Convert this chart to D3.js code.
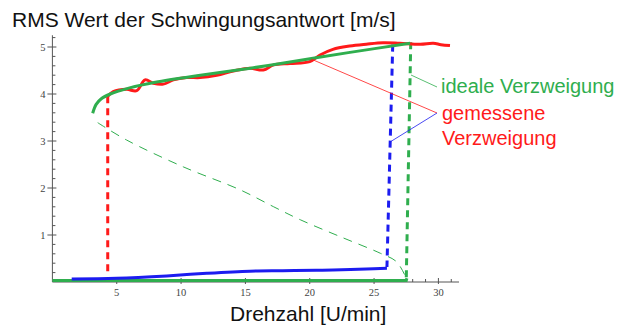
<!DOCTYPE html>
<html>
<head>
<meta charset="utf-8">
<script src="https://cdn.jsdelivr.net/npm/d3@7"></script>
<style>
body { margin: 0; background: #fff; }
svg { display: block; }
</style>
</head>
<body>
<svg id="chart"></svg>
<script>
// values
var greenUpper = [[3.13,3.59],[3.4,3.78],[3.8,3.9],[4.5,4.0],[6,4.13],[8,4.25],[11.5,4.40],[15.4,4.55],[19.3,4.72],[23,4.88],[27.8,5.08]];
var greenUnstable = [[3.52,3.39],[5.77,3.02],[10.17,2.45],[14.6,1.96],[17.2,1.6],[19.3,1.32],[22.5,0.95],[25.5,0.61],[26.75,0.43],[27.5,0.08]];
var greenJump = [[27.85,5.1],[27.5,0.04]];
var greenLower = [[0,0.03],[27.5,0.03],[27.55,0.08]];
var redMeasured = [[4.3,3.95],[4.73,4.05],[5.77,4.10],[6.55,4.07],[7.2,4.30],[7.84,4.23],[8.62,4.21],[9.4,4.30],[10.44,4.35],[11.47,4.35],[12.77,4.40],[14.06,4.49],[15.35,4.55],[16.39,4.51],[17.2,4.62],[18.46,4.65],[20.0,4.69],[20.8,4.83],[21.8,4.95],[23.1,5.02],[24.4,5.06],[25.7,5.09],[27.0,5.08],[28.6,5.06],[29.6,5.08],[30.2,5.05],[30.9,5.03]];
var redJump = [[4.3,3.95],[4.3,0.15]];
var blueMeasured = [[1.5,0.064],[5,0.08],[8.88,0.13],[12,0.185],[15.35,0.23],[17.9,0.24],[20.5,0.25],[21.8,0.255],[24.4,0.277],[26.0,0.29]];
var blueJump = [[26.45,5.05],[26.0,0.32]];
var xTicks = [5, 10, 15, 20, 25, 30];
var yTicks = [1, 2, 3, 4, 5];

var width = 623, height = 329;
var svg = d3.select("#chart").attr("width", width).attr("height", height);

var x = d3.scaleLinear().domain([0, 31.6]).range([52.4, 459]);
var y = d3.scaleLinear().domain([0, 5.25]).range([282, 35.25]);

var axisColor = "#555";
var red = "#ff1a1a", green = "#2fae4e", blue = "#1c1cf0";

// axes
var xAxisG = svg.append("g").attr("transform", "translate(0," + y(0) + ")");
xAxisG.append("line").attr("x1", x(0)).attr("x2", x(31.6)).attr("stroke", axisColor);
xAxisG.selectAll(".minor").data(d3.range(1, 32)).enter().append("line")
  .attr("x1", function(d){return x(d)}).attr("x2", function(d){return x(d)})
  .attr("y2", function(d){return d % 5 == 0 ? 2 : -3})
  .attr("y1", function(d){return d % 5 == 0 ? -4 : 0})
  .attr("stroke", axisColor);
xAxisG.selectAll("text").data(xTicks).enter().append("text")
  .attr("x", function(d){return x(d)}).attr("y", 14)
  .attr("text-anchor", "middle")
  .style("font-family", "Liberation Serif").style("font-size", "10.5px").style("fill", "#444")
  .text(function(d){return d});

var yAxisG = svg.append("g").attr("transform", "translate(" + x(0) + ",0)");
yAxisG.append("line").attr("y1", y(0)).attr("y2", y(5.25)).attr("stroke", axisColor);
yAxisG.selectAll(".minor").data(d3.range(1, 27)).enter().append("line")
  .attr("y1", function(d){return y(d * 0.2)}).attr("y2", function(d){return y(d * 0.2)})
  .attr("x1", function(d){return d % 5 == 0 ? -5 : 0}).attr("x2", function(d){return d % 5 == 0 ? 4 : 3})
  .attr("stroke", axisColor);
yAxisG.selectAll("text").data(yTicks).enter().append("text")
  .attr("x", -7).attr("y", function(d){return y(d) + 3.5})
  .attr("text-anchor", "end")
  .style("font-family", "Liberation Serif").style("font-size", "10.5px").style("fill", "#444")
  .text(function(d){return d});

var line = d3.line().x(function(d){return x(d[0])}).y(function(d){return y(d[1])});
var smooth = d3.line().x(function(d){return x(d[0])}).y(function(d){return y(d[1])}).curve(d3.curveCatmullRom);

function draw(data, gen, color, w, dash) {
  svg.append("path").datum(data).attr("d", gen)
    .attr("fill", "none").attr("stroke", color).attr("stroke-width", w)
    .attr("stroke-dasharray", dash || null);
}

draw(greenLower, line, green, 3);
draw(blueMeasured, smooth, blue, 3);
draw(greenUnstable, smooth, green, 1, "9,7");
draw(redJump, line, red, 3, "7,5");
draw(blueJump, line, blue, 3, "7,5");
draw(greenJump, line, green, 3, "7,5");
draw(redMeasured, smooth, red, 3);
draw(greenUpper, smooth, green, 3);

// callout lines
svg.append("line").attr("x1", 411).attr("y1", 75).attr("x2", 437).attr("y2", 87)
  .attr("stroke", green).attr("stroke-width", 0.8);
svg.append("line").attr("x1", 311).attr("y1", 59).attr("x2", 437).attr("y2", 113)
  .attr("stroke", red).attr("stroke-width", 0.8);
svg.append("line").attr("x1", 437).attr("y1", 113).attr("x2", 390).attr("y2", 142)
  .attr("stroke", blue).attr("stroke-width", 0.8);

// texts
function label(txt, tx, ty, color, size) {
  svg.append("text").attr("x", tx).attr("y", ty)
    .style("font-family", "Liberation Sans").style("font-size", size + "px").style("fill", color)
    .text(txt);
}
label("RMS Wert der Schwingungsantwort [m/s]", 12, 27, "#111", 21);
label("Drehzahl [U/min]", 230, 321, "#111", 21);
label("ideale Verzweigung", 441, 93, green, 20);
label("gemessene", 442, 120, red, 20);
label("Verzweigung", 442, 145, red, 20);
</script>
</body>
</html>
